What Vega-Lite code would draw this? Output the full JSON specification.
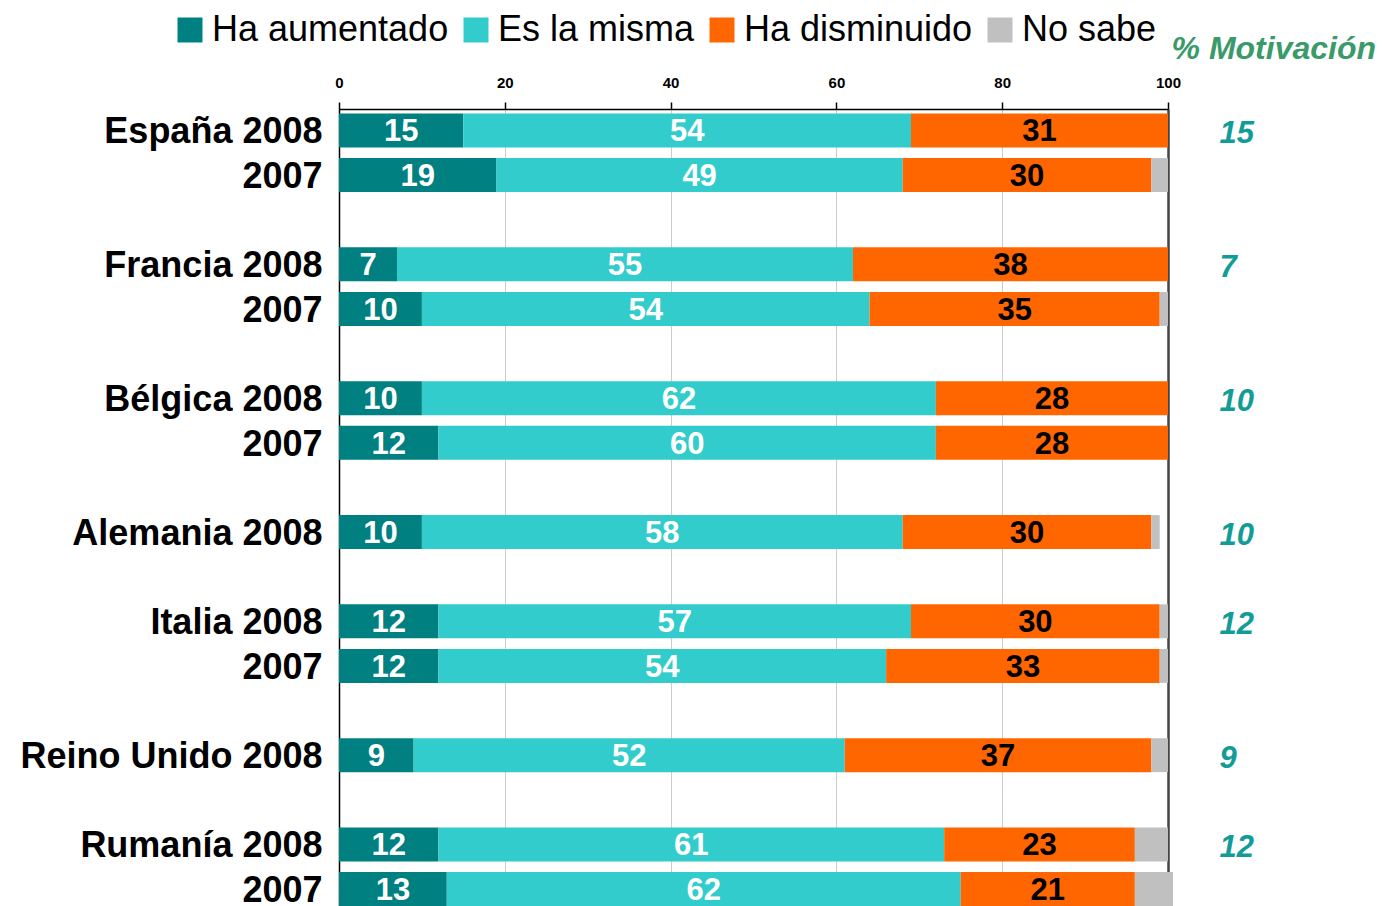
{
  "$schema": "https://vega.github.io/schema/vega-lite/v6.json",
  "autosize": "none",
  "width": 829,
  "height": 797,
  "padding": {"left": 339, "top": 109, "right": 214, "bottom": 0},
  "background": "white",
  "config": {"view": {"stroke": null}, "font": "Liberation Sans"},
  "title": {"text": "% Motivación", "anchor": "end", "frame": "group", "orient": "top", "dx": 208, "dy": 64, "offset": 10, "fontSize": 32, "fontStyle": "italic", "fontWeight": "bold", "color": "#3a9a6a", "font": "Liberation Sans"},
  "data": {"values": [
    {"k": "España 2008", "cat": "Ha aumentado", "v": 15},
    {"k": "España 2008", "cat": "Es la misma", "v": 54},
    {"k": "España 2008", "cat": "Ha disminuido", "v": 31},
    {"k": "España 2007", "cat": "Ha aumentado", "v": 19},
    {"k": "España 2007", "cat": "Es la misma", "v": 49},
    {"k": "España 2007", "cat": "Ha disminuido", "v": 30},
    {"k": "España 2007", "cat": "No sabe", "v": 2},
    {"k": "Francia 2008", "cat": "Ha aumentado", "v": 7},
    {"k": "Francia 2008", "cat": "Es la misma", "v": 55},
    {"k": "Francia 2008", "cat": "Ha disminuido", "v": 38},
    {"k": "Francia 2007", "cat": "Ha aumentado", "v": 10},
    {"k": "Francia 2007", "cat": "Es la misma", "v": 54},
    {"k": "Francia 2007", "cat": "Ha disminuido", "v": 35},
    {"k": "Francia 2007", "cat": "No sabe", "v": 1},
    {"k": "Bélgica 2008", "cat": "Ha aumentado", "v": 10},
    {"k": "Bélgica 2008", "cat": "Es la misma", "v": 62},
    {"k": "Bélgica 2008", "cat": "Ha disminuido", "v": 28},
    {"k": "Bélgica 2007", "cat": "Ha aumentado", "v": 12},
    {"k": "Bélgica 2007", "cat": "Es la misma", "v": 60},
    {"k": "Bélgica 2007", "cat": "Ha disminuido", "v": 28},
    {"k": "Alemania 2008", "cat": "Ha aumentado", "v": 10},
    {"k": "Alemania 2008", "cat": "Es la misma", "v": 58},
    {"k": "Alemania 2008", "cat": "Ha disminuido", "v": 30},
    {"k": "Alemania 2008", "cat": "No sabe", "v": 1},
    {"k": "Italia 2008", "cat": "Ha aumentado", "v": 12},
    {"k": "Italia 2008", "cat": "Es la misma", "v": 57},
    {"k": "Italia 2008", "cat": "Ha disminuido", "v": 30},
    {"k": "Italia 2008", "cat": "No sabe", "v": 1},
    {"k": "Italia 2007", "cat": "Ha aumentado", "v": 12},
    {"k": "Italia 2007", "cat": "Es la misma", "v": 54},
    {"k": "Italia 2007", "cat": "Ha disminuido", "v": 33},
    {"k": "Italia 2007", "cat": "No sabe", "v": 1},
    {"k": "Reino Unido 2008", "cat": "Ha aumentado", "v": 9},
    {"k": "Reino Unido 2008", "cat": "Es la misma", "v": 52},
    {"k": "Reino Unido 2008", "cat": "Ha disminuido", "v": 37},
    {"k": "Reino Unido 2008", "cat": "No sabe", "v": 2},
    {"k": "Rumanía 2008", "cat": "Ha aumentado", "v": 12},
    {"k": "Rumanía 2008", "cat": "Es la misma", "v": 61},
    {"k": "Rumanía 2008", "cat": "Ha disminuido", "v": 23},
    {"k": "Rumanía 2008", "cat": "No sabe", "v": 4},
    {"k": "Rumanía 2007", "cat": "Ha aumentado", "v": 13},
    {"k": "Rumanía 2007", "cat": "Es la misma", "v": 62},
    {"k": "Rumanía 2007", "cat": "Ha disminuido", "v": 21},
    {"k": "Rumanía 2007", "cat": "No sabe", "v": 4.6}
  ]},
  "transform": [
    {"calculate": "indexof(['Ha aumentado','Es la misma','Ha disminuido','No sabe'], datum.cat)", "as": "o"}
  ],
  "encoding": {
    "y": {
      "field": "k", "type": "nominal",
      "scale": {
        "domain": ["España 2008","España 2007","_1","Francia 2008","Francia 2007","_2","Bélgica 2008","Bélgica 2007","_3","Alemania 2008","_4","Italia 2008","Italia 2007","_5","Reino Unido 2008","_6","Rumanía 2008","Rumanía 2007"],
        "paddingInner": 0.24, "paddingOuter": 0.05, "align": 1
      },
      "axis": {
        "title": null, "ticks": false, "grid": false,
        "domainColor": "black", "domainWidth": 1.5,
        "labelFontSize": 36, "labelFontWeight": "bold", "labelColor": "black", "labelFont": "Liberation Sans",
        "labelPadding": 17, "labelLimit": 400, "labelOffset": 2,
        "labelExpr": "indexof(datum.value,'_') === 0 ? '' : (indexof(datum.value,'2007') > 0 ? '2007' : datum.value)"
      }
    }
  },
  "layer": [
    {
      "mark": {"type": "bar"},
      "encoding": {
        "x": {
          "field": "v", "type": "quantitative", "stack": "zero",
          "scale": {"domain": [0, 100], "nice": false, "zero": true},
          "axis": {
            "orient": "top", "title": null, "values": [0, 20, 40, 60, 80, 100],
            "labelFontSize": 15, "labelFontWeight": "bold", "labelColor": "black", "labelFont": "Liberation Sans",
            "labelPadding": 12, "labelFlush": false, "tickColor": "black", "tickSize": 7, "tickWidth": 1.5,
            "domainColor": "black", "domainWidth": 1.5,
            "grid": true,
            "gridColor": {"condition": {"test": "datum.value === 100", "value": "#444444"}, "value": "#cccccc"},
            "gridWidth": {"condition": {"test": "datum.value === 100", "value": 2.5}, "value": 1}
          }
        },
        "color": {
          "field": "cat", "type": "nominal",
          "scale": {
            "domain": ["Ha aumentado", "Es la misma", "Ha disminuido", "No sabe"],
            "range": ["#008080", "#33cccc", "#ff6600", "#c0c0c0"]
          },
          "legend": {
            "title": null, "orient": "none", "direction": "horizontal",
            "legendX": -167, "legendY": -97, "padding": 0,
            "symbolType": "square", "symbolSize": 625, "symbolStrokeWidth": 0,
            "labelFontSize": 36, "labelColor": "black", "labelFont": "Liberation Sans",
            "labelOffset": 4, "columnPadding": 9, "labelLimit": 400
          }
        },
        "order": {"field": "o", "type": "quantitative"}
      }
    },
    {
      "transform": [{"filter": "datum.cat !== 'No sabe'"}],
      "mark": {"type": "text", "fontSize": 31, "fontWeight": "bold", "font": "Liberation Sans", "baseline": "middle", "align": "center", "dy": 2},
      "encoding": {
        "x": {"field": "v", "type": "quantitative", "stack": "zero", "bandPosition": 0.5},
        "order": {"field": "o", "type": "quantitative"},
        "detail": {"field": "cat"},
        "text": {"field": "v", "type": "quantitative"},
        "color": {
          "condition": {"test": "datum.cat === 'Ha disminuido'", "value": "black"},
          "value": "white"
        }
      }
    },
    {
      "transform": [{"filter": "datum.cat === 'Ha aumentado' && indexof(datum.k, '2008') > 0"}],
      "mark": {"type": "text", "fontSize": 31, "fontWeight": "bold", "fontStyle": "italic", "font": "Liberation Sans", "baseline": "middle", "align": "left", "color": "#129c98", "dy": 4},
      "encoding": {
        "x": {"datum": 106.2, "type": "quantitative"},
        "text": {"field": "v", "type": "quantitative"}
      }
    }
  ]
}
